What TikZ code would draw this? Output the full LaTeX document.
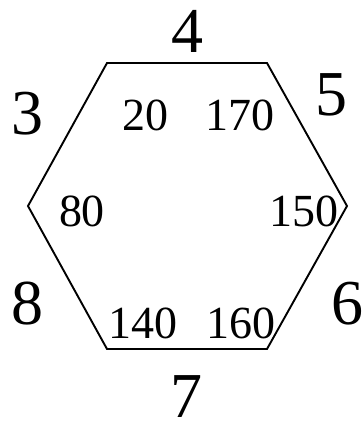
\documentclass[tikz,border=0pt]{standalone}
\usepackage{fontspec}
\setmainfont{Liberation Serif}
\begin{document}
\begin{tikzpicture}[x=1pt,y=-1pt,
  big/.style={anchor=base,inner sep=0pt,text depth=0pt,font=\fontsize{64}{64}\selectfont},
  small/.style={anchor=base,inner sep=0pt,text depth=0pt,font=\fontsize{46}{46}\selectfont},
  edge/.style={line width=1.9pt,line join=miter}]
\useasboundingbox (0,0) rectangle (363,421);
\coordinate (tl) at (107,63);
\coordinate (tr) at (267,63);
\coordinate (r) at (347,206);
\coordinate (br) at (267,349);
\coordinate (bl) at (107,349);
\coordinate (l) at (28,206);
\draw[edge] (tl) -- (tr) -- (r) -- (br) -- (bl) -- (l) -- cycle;
\node[big] (n4) at (187,52) {4};
\node[big] (n3) at (27,134) {3};
\node[big] (n5) at (331,115) {5};
\node[big] (n8) at (28,324) {8};
\node[big] (n6) at (347,324) {6};
\node[big] (n7) at (186,417) {7};
\node[small] (a20) at (145,130) {20};
\node[small] (a170) at (240,130) {170};
\node[small] (a80) at (82,226) {80};
\node[small] (a150) at (304,226) {150};
\node[small] (a140) at (143,338) {140};
\node[small] (a160) at (241,338) {160};
\end{tikzpicture}
\end{document}
